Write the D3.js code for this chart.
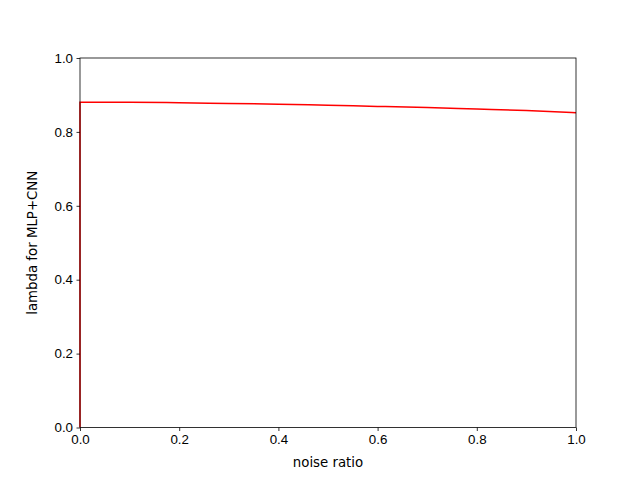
<!DOCTYPE html>
<html>
<head>
<meta charset="utf-8">
<script src="https://cdn.jsdelivr.net/npm/d3@7"></script>
<style>
  body { margin: 0; background: #ffffff; }
  svg { font-family: "DejaVu Sans", sans-serif; }
</style>
</head>
<body>
<div id="chart"></div>
<script>
// noise ratio vs lambda
var noiseRatio = [0.0, 0.0, 0.1, 0.2, 0.3, 0.4, 0.5, 0.6, 0.7, 0.8, 0.9, 1.0];
var lambdaVals = [0.0, 0.880, 0.880, 0.879, 0.877, 0.875, 0.872, 0.869, 0.866, 0.862, 0.858, 0.852];
var xTicks = [0.0, 0.2, 0.4, 0.6, 0.8, 1.0];
var yTicks = [0.0, 0.2, 0.4, 0.6, 0.8, 1.0];

var data = noiseRatio.map(function(d, i) { return {x: d, y: lambdaVals[i]}; });

var W = 640, H = 480;
var margin = {top: 58, right: 64, bottom: 52.5, left: 80};
var width = W - margin.left - margin.right;
var height = H - margin.top - margin.bottom;

var svg = d3.select("#chart").append("svg")
	.attr("width", W)
	.attr("height", H)
	.append("g")
	.attr("transform", "translate(" + margin.left + "," + margin.top + ")");

var x = d3.scaleLinear().domain([0, 1]).range([0, width]);
var y = d3.scaleLinear().domain([0, 1]).range([height, 0]);

//
// the line
//
var line = d3.line()
	.x(function(d) { return x(d.x); })
	.y(function(d) { return y(d.y); })
	.curve(d3.curveMonotoneX);

svg.append("path")
	.attr("d", line(data))
	.attr("fill", "none")
	.style("stroke", "red")
	.style("stroke-width", 1.5);

//
// axes
//
var axisX = svg.append("g")
	.attr("transform", "translate(0," + height + ")")
	.call(d3.axisBottom(x).tickValues(xTicks).tickFormat(d3.format(".1f")).tickSizeOuter(0).tickSize(3.5).tickPadding(3.5));
var axisY = svg.append("g")
	.call(d3.axisLeft(y).tickValues(yTicks).tickFormat(d3.format(".1f")).tickSizeOuter(0).tickSize(3.5).tickPadding(3.5));

[axisX, axisY].forEach(function(a) {
	a.select(".domain").remove();
	a.selectAll("line").style("stroke", "black").style("stroke-width", 0.8);
	a.selectAll("text").style("font-size", "13.33px").style("fill", "black");
});

//
// box
//
svg.append("rect")
	.attr("x", 0).attr("y", 0)
	.attr("width", width).attr("height", height)
	.attr("fill", "none")
	.style("stroke", "black")
	.style("stroke-width", 0.8);

//
// labels
//
svg.append("text")
	.attr("x", width / 2)
	.attr("y", height + 39)
	.attr("text-anchor", "middle")
	.style("font-size", "13.33px")
	.text("noise ratio");

svg.append("text")
	.attr("transform", "rotate(-90)")
	.attr("x", -height / 2)
	.attr("y", -43)
	.attr("text-anchor", "middle")
	.style("font-size", "13.33px")
	.text("lambda for MLP+CNN");
</script>
</body>
</html>
